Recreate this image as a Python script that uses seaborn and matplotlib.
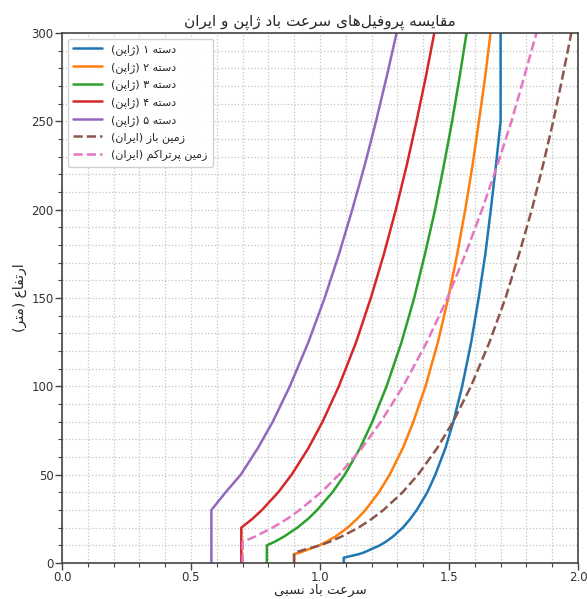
import matplotlib
matplotlib.use("Agg")
import matplotlib.pyplot as plt
import seaborn as sns
import pandas as pd
from matplotlib.ticker import MultipleLocator

# ---------------- data ----------------
heights = [0, 3, 5, 6, 10, 12, 15, 20, 25, 30, 40, 50, 65, 80, 100, 125, 150, 175, 200, 225, 250, 275, 300]

cat1 = [1.092, 1.092, 1.150, 1.171, 1.232, 1.255, 1.283, 1.321, 1.350, 1.375, 1.416, 1.447, 1.486,
        1.517, 1.551, 1.586, 1.615, 1.641, 1.662, 1.682, 1.700, 1.700, 1.700]
cat2 = [0.899, 0.899, 0.899, 0.924, 0.997, 1.025, 1.060, 1.107, 1.144, 1.176, 1.228, 1.270, 1.321,
        1.362, 1.409, 1.457, 1.497, 1.532, 1.563, 1.591, 1.616, 1.640, 1.661]
cat3 = [0.794, 0.794, 0.794, 0.794, 0.794, 0.824, 0.861, 0.912, 0.954, 0.989, 1.048, 1.096, 1.155,
        1.203, 1.258, 1.316, 1.365, 1.407, 1.446, 1.480, 1.512, 1.541, 1.568]
cat4 = [0.695, 0.695, 0.695, 0.695, 0.695, 0.695, 0.695, 0.695, 0.738, 0.775, 0.838, 0.890, 0.955,
        1.010, 1.073, 1.140, 1.197, 1.248, 1.294, 1.336, 1.374, 1.410, 1.443]
cat5 = [0.579, 0.579, 0.579, 0.579, 0.579, 0.579, 0.579, 0.579, 0.579, 0.579, 0.634, 0.693, 0.759,
        0.817, 0.883, 0.955, 1.018, 1.074, 1.125, 1.173, 1.217, 1.258, 1.297]
iran_open = [0.900, 0.900, 0.900, 0.903, 1.000, 1.037, 1.084, 1.149, 1.201, 1.246, 1.320, 1.380, 1.454,
             1.516, 1.585, 1.657, 1.719, 1.772, 1.821, 1.864, 1.904, 1.940, 1.974]
iran_rough = [0.700, 0.700, 0.700, 0.700, 0.700, 0.700, 0.749, 0.816, 0.873, 0.921, 1.004, 1.074, 1.162,
              1.236, 1.322, 1.414, 1.494, 1.564, 1.628, 1.687, 1.742, 1.791, 1.839]

series_labels = ["دسته ۱ (ژاپن)", "دسته ۲ (ژاپن)", "دسته ۳ (ژاپن)", "دسته ۴ (ژاپن)",
                 "دسته ۵ (ژاپن)", "زمین باز (ایران)", "زمین پرتراکم (ایران)"]
title_text = "مقایسه پروفیل‌های سرعت باد ژاپن و ایران"
xlabel_text = "سرعت باد نسبی"
ylabel_text = "ارتفاع (متر)"

# ---------------- minimal Arabic/Persian shaping for display ----------------
FORMS = {
    "\u0627": ("\uFE8D", "\uFE8E", None, None),
    "\u0622": ("\uFE81", "\uFE82", None, None),
    "\u0628": ("\uFE8F", "\uFE90", "\uFE91", "\uFE92"),
    "\u067E": ("\uFB56", "\uFB57", "\uFB58", "\uFB59"),
    "\u062A": ("\uFE95", "\uFE96", "\uFE97", "\uFE98"),
    "\u062C": ("\uFE9D", "\uFE9E", "\uFE9F", "\uFEA0"),
    "\u062D": ("\uFEA1", "\uFEA2", "\uFEA3", "\uFEA4"),
    "\u062E": ("\uFEA5", "\uFEA6", "\uFEA7", "\uFEA8"),
    "\u062F": ("\uFEA9", "\uFEAA", None, None),
    "\u0630": ("\uFEAB", "\uFEAC", None, None),
    "\u0631": ("\uFEAD", "\uFEAE", None, None),
    "\u0632": ("\uFEAF", "\uFEB0", None, None),
    "\u0698": ("\uFB8A", "\uFB8B", None, None),
    "\u0633": ("\uFEB1", "\uFEB2", "\uFEB3", "\uFEB4"),
    "\u0634": ("\uFEB5", "\uFEB6", "\uFEB7", "\uFEB8"),
    "\u0635": ("\uFEB9", "\uFEBA", "\uFEBB", "\uFEBC"),
    "\u0637": ("\uFEC1", "\uFEC2", "\uFEC3", "\uFEC4"),
    "\u0639": ("\uFEC9", "\uFECA", "\uFECB", "\uFECC"),
    "\u063A": ("\uFECD", "\uFECE", "\uFECF", "\uFED0"),
    "\u0641": ("\uFED1", "\uFED2", "\uFED3", "\uFED4"),
    "\u0642": ("\uFED5", "\uFED6", "\uFED7", "\uFED8"),
    "\u06A9": ("\uFB8E", "\uFB8F", "\uFB90", "\uFB91"),
    "\u06AF": ("\uFB92", "\uFB93", "\uFB94", "\uFB95"),
    "\u0644": ("\uFEDD", "\uFEDE", "\uFEDF", "\uFEE0"),
    "\u0645": ("\uFEE1", "\uFEE2", "\uFEE3", "\uFEE4"),
    "\u0646": ("\uFEE5", "\uFEE6", "\uFEE7", "\uFEE8"),
    "\u0647": ("\uFEE9", "\uFEEA", "\uFEEB", "\uFEEC"),
    "\u0648": ("\uFEED", "\uFEEE", None, None),
    "\u06CC": ("\uFBFC", "\uFBFD", "\uFBFE", "\uFBFF"),
    "\u064A": ("\uFEF1", "\uFEF2", "\uFEF3", "\uFEF4"),
}
MIRROR = {"(": ")", ")": "("}


def rtl(text):
    out = []
    n = len(text)
    for i, c in enumerate(text):
        if c == "\u200C":
            continue
        if c not in FORMS:
            out.append(MIRROR.get(c, c))
            continue
        prev = text[i - 1] if i > 0 else ""
        nxt = text[i + 1] if i + 1 < n else ""
        f = FORMS[c]
        can_prev = prev in FORMS and FORMS[prev][2] is not None
        can_next = f[2] is not None and nxt in FORMS
        if can_prev and can_next:
            out.append(f[3])
        elif can_prev:
            out.append(f[1])
        elif can_next:
            out.append(f[2])
        else:
            out.append(f[0])
    return "".join(reversed(out))


# ---------------- plotting ----------------
sns.set_style("ticks")
plt.rcParams["font.family"] = ["DejaVu Sans"]

colors = ["#1f77b4", "#ff7f0e", "#2ca02c", "#d62728", "#9467bd", "#8c564b", "#e377c2"]
styles = ["-", "-", "-", "-", "-", "--", "--"]
all_series = [cat1, cat2, cat3, cat4, cat5, iran_open, iran_rough]

fig = plt.figure(figsize=(5.87, 5.99), dpi=100)
ax = fig.add_axes([62 / 587, 1 - 563 / 599, (578 - 62) / 587, (563 - 33) / 599])

for vals, lab, col, ls in zip(all_series, series_labels, colors, styles):
    df = pd.DataFrame({"v": vals, "h": heights})
    sns.lineplot(data=df, x="v", y="h", ax=ax, color=col, linestyle=ls, linewidth=1.8,
                 label=rtl(lab), sort=False, estimator=None)

ax.set_xlim(0, 2.0)
ax.set_ylim(0, 300)
ax.xaxis.set_major_locator(MultipleLocator(0.5))
ax.xaxis.set_minor_locator(MultipleLocator(0.1))
ax.yaxis.set_major_locator(MultipleLocator(50))
ax.yaxis.set_minor_locator(MultipleLocator(10))
ax.grid(True, which="both", linestyle=":", linewidth=0.9, color="#c4c4c4")
for s in ax.spines.values():
    s.set_color("#444444")
    s.set_linewidth(1.2)
ax.tick_params(which="major", length=5, width=1.0, colors="#444444", labelsize=8.5,
               labelcolor="#333333", pad=1)
ax.tick_params(which="minor", length=3, width=0.8, colors="#444444")

ax.set_title(rtl(title_text), fontsize=11, pad=5)
ax.set_xlabel(rtl(xlabel_text), fontsize=9.5)
ax.xaxis.set_label_coords(0.5, -0.039)
ax.set_ylabel(rtl(ylabel_text), fontsize=10, labelpad=3)

ax.legend(loc="upper left", fontsize=8, frameon=True, framealpha=0.9, edgecolor="#cccccc",
          handlelength=2.6, borderpad=0.5, labelspacing=0.6)

fig.savefig("out.png", dpi=100)
